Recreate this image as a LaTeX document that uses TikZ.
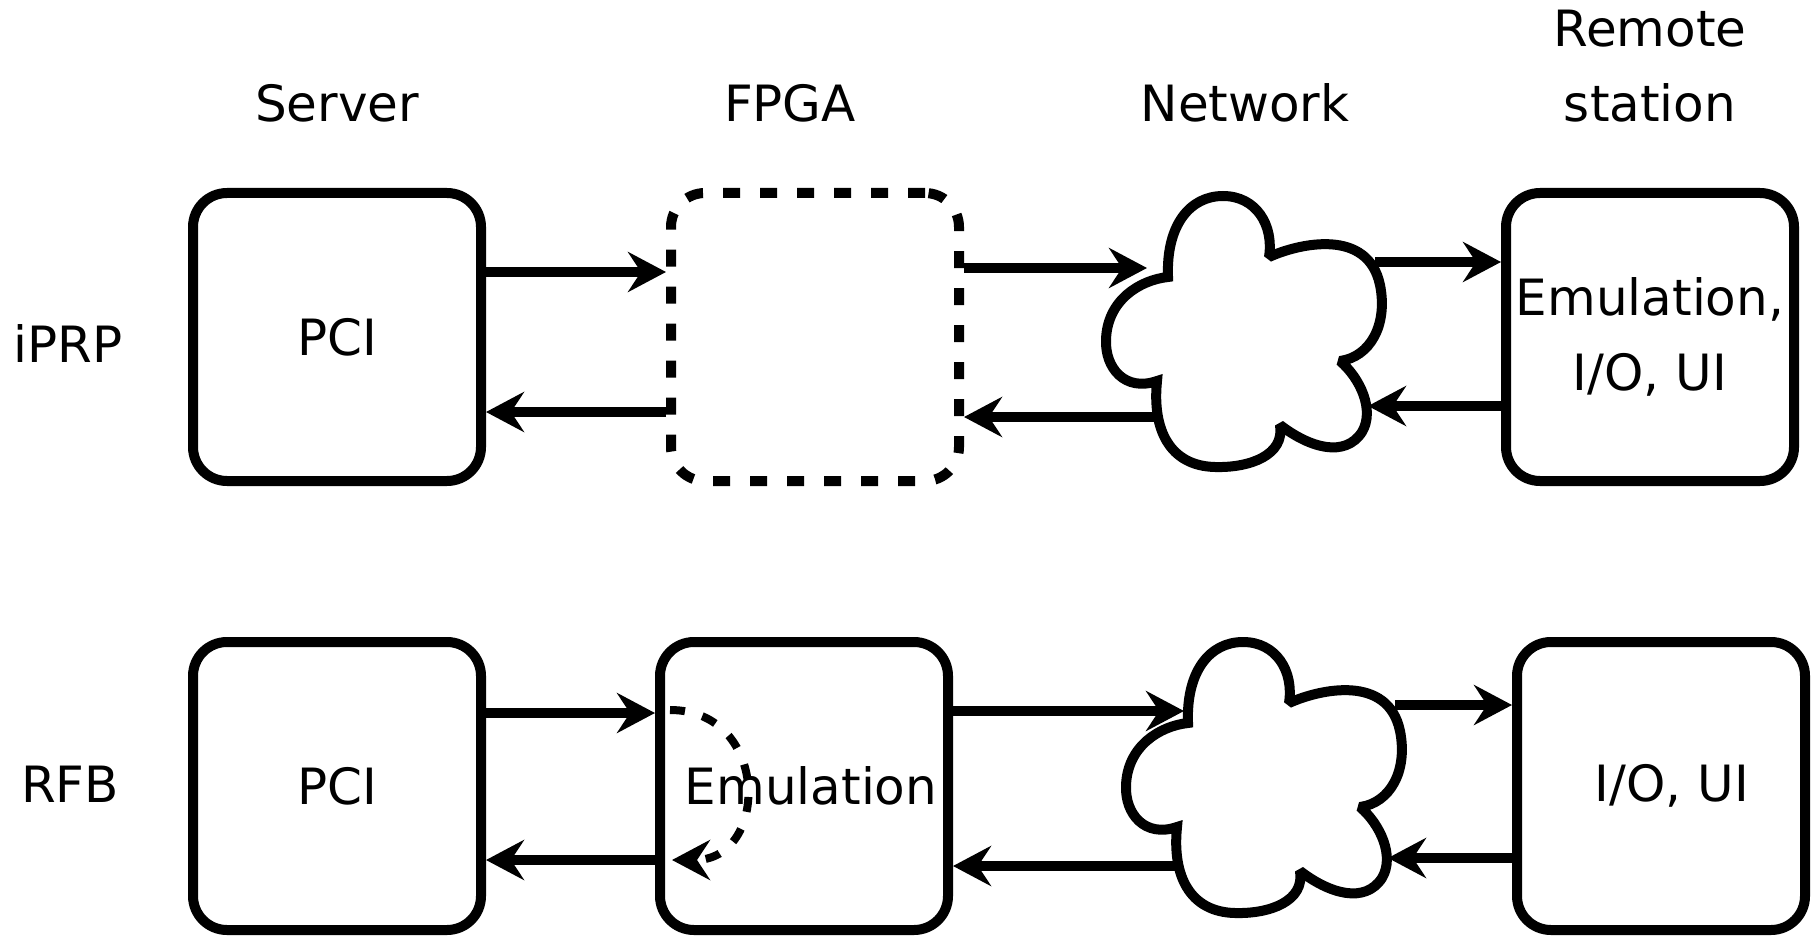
\documentclass[tikz,border=0pt]{standalone}
\usepackage{fontspec}
\setmainfont{DejaVu Sans}
\usetikzlibrary{arrows.meta}
\begin{document}
\begin{tikzpicture}[x=1pt,y=-1pt,
  box/.style={draw, line width=10pt, rounded corners=34pt, minimum width=288pt, minimum height=288pt, inner sep=0pt, align=center, font=\fontsize{50}{75}\selectfont},
  dbox/.style={box, dash pattern=on 17pt off 20pt},
  lbl/.style={font=\fontsize{50}{60}\selectfont, anchor=base, inner sep=0pt},
  arr/.style={line width=10pt, -{Stealth[length=38pt,width=40pt,inset=13pt]}},
  cloudline/.style={line width=10pt, line join=miter, miter limit=2},
  loopline/.style={line width=8pt, dash pattern=on 15pt off 18pt, -{Stealth[length=38pt,width=40pt,inset=13pt]}},
  netcloud/.pic={
    \draw[cloudline]
      (1168,277) .. controls (1166,225) and (1190,196) .. (1223,196)
      .. controls (1256,196) and (1274,225) .. (1269,257)
      .. controls (1300,243) and (1368,228) .. (1380,285)
      .. controls (1388,325) and (1370,357) .. (1340,361)
      .. controls (1360,378) and (1375,410) .. (1362,432)
      .. controls (1345,458) and (1310,448) .. (1280,425)
      .. controls (1285,455) and (1250,468) .. (1215,467)
      .. controls (1170,466) and (1152,430) .. (1157,381)
      .. controls (1125,392) and (1105,368) .. (1106,340)
      .. controls (1107,300) and (1140,280) .. (1168,277) -- cycle;
  }]
\useasboundingbox (0,0) rectangle (1811,936);

% column and row labels
\node[lbl] (hServer) at (337,122) {Server};
\node[lbl] (hFPGA) at (790,122) {FPGA};
\node[lbl] (hNet) at (1245,122) {Network};
\node[lbl] (hRemote) at (1650,47) {Remote};
\node[lbl] (hStation) at (1650,122) {station};
\node[lbl] (lIPRP) at (68,362) {iPRP};
\node[lbl] (lRFB) at (70,802) {RFB};

% boxes
\node[box] (srvA) at (337,337) {PCI};
\node[dbox] (fpgaA) at (815,337) {};
\node[box] (remA) at (1650,337) {Emulation,\\I/O, UI};
\node[box] (srvB) at (337,786) {PCI};
\node[box] (fpgaB) at (804,786) {\hspace*{14pt}Emulation};
\node[box] (remB) at (1661,786) {\hspace*{22pt}I/O, UI};

% clouds
\pic at (0,0) {netcloud};
\pic at (20,446) {netcloud};

% cloud contact points
\coordinate (cAin) at (1147,268);
\coordinate (cAback) at (1158,417);
\coordinate (cAout) at (1375,262);
\coordinate (cAret) at (1368,406);
\coordinate (cBin) at (1184,711);
\coordinate (cBback) at (1177,866);
\coordinate (cBout) at (1395,705);
\coordinate (cBret) at (1388,858);

% y levels
\coordinate (yA1) at (0,272);
\coordinate (yA2) at (0,412);
\coordinate (yB1) at (0,713);
\coordinate (yB2) at (0,860);

% top row arrows
\draw[arr] (srvA.east |- yA1) -- (fpgaA.west |- yA1);
\draw[arr] (fpgaA.west |- yA2) -- (srvA.east |- yA2);
\draw[arr] (fpgaA.east |- cAin) -- (cAin);
\draw[arr] (cAback) -- (fpgaA.east |- cAback);
\draw[arr] (cAout) -- (remA.west |- cAout);
\draw[arr] (remA.west |- cAret) -- (cAret);

% bottom row arrows
\draw[arr] (srvB.east |- yB1) -- (fpgaB.west |- yB1);
\draw[arr] (fpgaB.west |- yB2) -- (srvB.east |- yB2);
\draw[arr] (fpgaB.east |- cBin) -- (cBin);
\draw[arr] (cBback) -- (fpgaB.east |- cBback);
\draw[arr] (cBout) -- (remB.west |- cBout);
\draw[arr] (remB.west |- cBret) -- (cBret);

% emulation loop
\coordinate (lpS) at (670,710);
\coordinate (lpE) at (672,860);
\draw[loopline] (lpS) .. controls (770,710) and (770,860) .. (lpE);
\end{tikzpicture}
\end{document}
